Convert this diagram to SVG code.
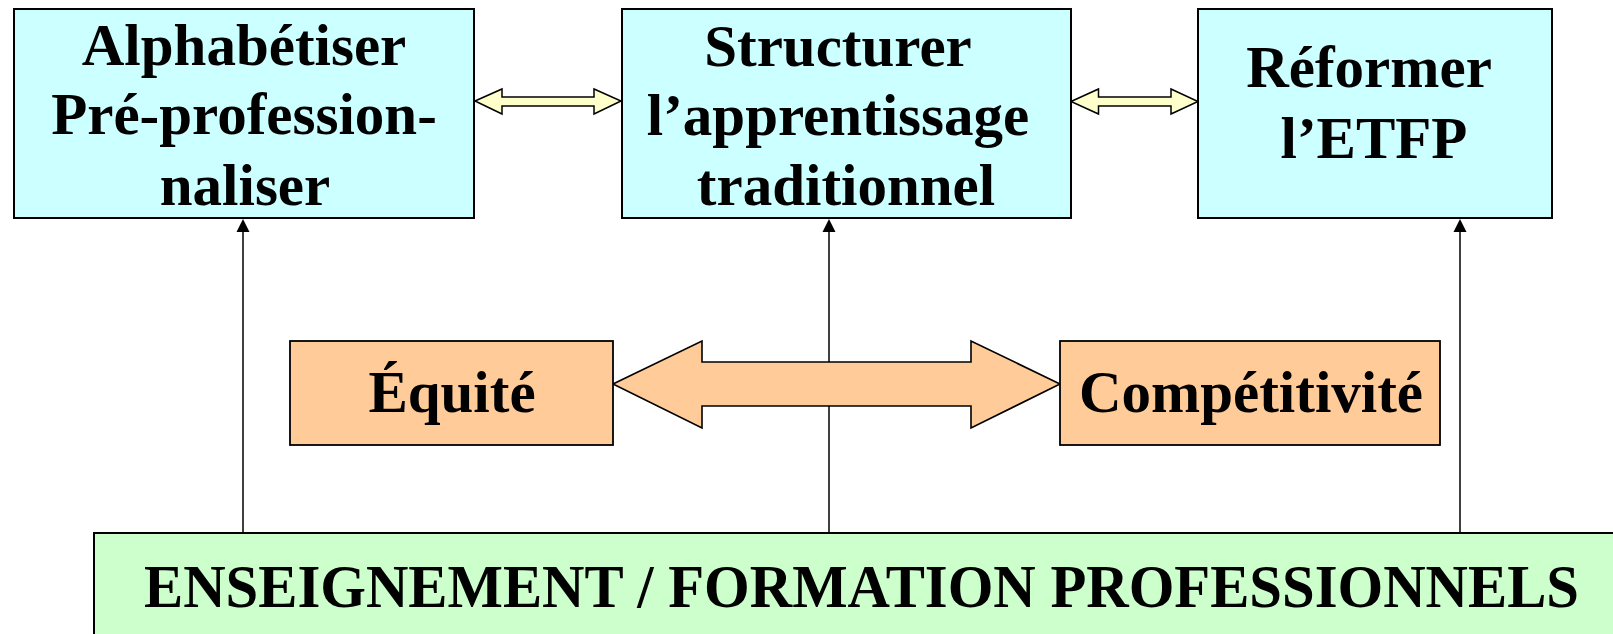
<svg xmlns="http://www.w3.org/2000/svg" width="1613" height="634" viewBox="0 0 1613 634">
<defs>
<style>
.top{fill:#CCFFFF;stroke:#000;stroke-width:2}
.mid{fill:#FFCC99;stroke:#000;stroke-width:1.8}
.bot{fill:#CCFFCC;stroke:#000;stroke-width:2}
.yarrow{fill:#FFFFCC;stroke:#000;stroke-width:1.5;stroke-linejoin:miter}
.oarrow{fill:#FFCC99;stroke:#000;stroke-width:1.6;stroke-linejoin:miter}
.vline{stroke:#000;stroke-width:1.5;fill:none}
.head{fill:#000}
text{font-family:"Liberation Serif","Times New Roman",serif;font-weight:bold;fill:#000;text-anchor:middle}
.t{font-size:59px}
.b{font-size:61px}
</style>
</defs>
<rect width="1613" height="634" fill="#fff"/>
<g id="connectors">
<line class="vline" x1="243" y1="533" x2="243" y2="228"/>
<polygon class="head" points="243,219 236.5,232 249.5,232"/>
<line class="vline" x1="829" y1="533" x2="829" y2="228"/>
<polygon class="head" points="829,219 822.5,232 835.5,232"/>
<line class="vline" x1="1460" y1="533" x2="1460" y2="228"/>
<polygon class="head" points="1460,219 1453.5,232 1466.5,232"/>
<polygon class="yarrow" points="475,101 502,89 502,97 594,97 594,89 621,101 594,114 594,106 502,106 502,114"/>
<polygon class="yarrow" points="1071,101.5 1098.5,89 1098.5,97 1171,97 1171,89 1198,101.5 1171,114 1171,106 1098.5,106 1098.5,114"/>
<polygon class="oarrow" points="613,384 702,341 702,362 971,362 971,341 1060,384 971,428 971,406 702,406 702,428"/>
</g>
<g id="node-alphabetiser">
<rect class="top" x="14" y="9" width="460" height="209"/>
<text class="t" x="244" y="65">Alphabétiser</text>
<text class="t" x="244" y="134">Pré-profession-</text>
<text class="t" x="245" y="205">naliser</text>
</g>
<g id="node-structurer">
<rect class="top" x="622" y="9" width="449" height="209"/>
<text class="t" x="838" y="66">Structurer</text>
<text class="t" x="838" y="135">l’apprentissage</text>
<text class="t" x="846" y="205">traditionnel</text>
</g>
<g id="node-reformer">
<rect class="top" x="1198" y="9" width="354" height="209"/>
<text class="t" x="1369" y="87">Réformer</text>
<text class="t" x="1374" y="158">l’ETFP</text>
</g>
<g id="node-equite">
<rect class="mid" x="290" y="341" width="323" height="104"/>
<text class="t" x="452" y="412">Équité</text>
</g>
<g id="node-competitivite">
<rect class="mid" x="1060" y="341" width="380" height="104"/>
<text class="t" x="1251" y="412">Compétitivité</text>
</g>
<g id="node-enseignement">
<rect class="bot" x="94" y="533" width="1522" height="104"/>
<text class="b" x="861.5" y="607" textLength="1435" lengthAdjust="spacingAndGlyphs">ENSEIGNEMENT / FORMATION PROFESSIONNELS</text>
</g>
</svg>
